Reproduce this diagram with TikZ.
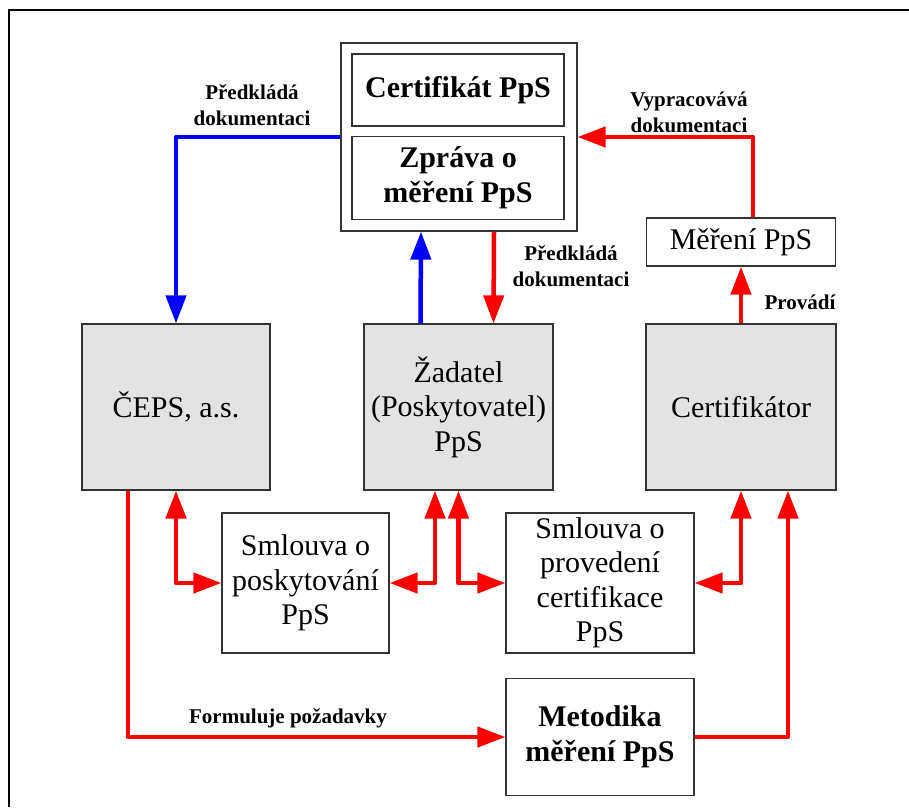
\documentclass[tikz,border=0pt]{standalone}
\usepackage{fontspec}
\setmainfont{Liberation Serif}
\usetikzlibrary{arrows.meta}

\begin{document}
\begin{tikzpicture}[x=1pt,y=-1pt,>={Triangle[length=28pt,width=20pt]},
    box/.style={draw=black!80,line width=1.2pt,align=center,inner sep=0pt,
      font=\fontsize{30}{34.5}\selectfont},
    boldbox/.style={box,font=\fontsize{30}{34.5}\selectfont\bfseries},
    greybox/.style={box,fill=black!11},
    lbl/.style={align=center,inner sep=0pt,font=\fontsize{21}{26}\selectfont\bfseries},
    redline/.style={draw=red,line width=4.5pt,line join=round},
    blueline/.style={draw=blue,line width=4.5pt,line join=round}]
  \useasboundingbox (0,0) rectangle (909,807);
  \draw[line width=2.5pt] (9,807) -- (9,10) -- (909,10);

  % top: certificate and report
  \node[box,minimum width=236pt,minimum height=188pt] (cert) at (459,137) {};
  \node[boldbox,minimum width=212pt,minimum height=72pt] (certpps) at (458,90) {Certifikát PpS};
  \node[boldbox,minimum width=212pt,minimum height=83pt] (zprava) at (458,178) {Zpráva o\\měření PpS};
  \node[box,minimum width=189pt,minimum height=48pt] (mereni) at (741,242) {Měření PpS};

  % parties
  \node[greybox,minimum width=188pt,minimum height=166pt] (ceps) at (176,407) {ČEPS, a.s.};
  \node[greybox,minimum width=189pt,minimum height=166pt] (zadatel) at (458.5,407) {Žadatel\\(Poskytovatel)\\PpS};
  \node[greybox,minimum width=190pt,minimum height=166pt] (certifikator) at (741,407) {Certifikátor};

  % contracts
  \node[box,minimum width=167pt,minimum height=140pt] (smlouva1) at (305.5,583) {Smlouva o\\poskytování\\PpS};
  \node[box,minimum width=188pt,minimum height=140pt] (smlouva2) at (600,583) {Smlouva o\\provedení\\certifikace\\PpS};
  \node[boldbox,minimum width=188pt,minimum height=117pt] (metodika) at (600,737) {Metodika\\měření PpS};

  \draw[blueline,->] (cert.west) -| (ceps.north);
  \draw[blueline,->] ([xshift=-38pt]zadatel.north) -- ([xshift=-38pt]cert.south);
  \draw[redline,->] ([xshift=35pt]cert.south) -- ([xshift=35pt]zadatel.north);
  \draw[redline,->] ([xshift=12pt]mereni.north) |- (cert.east);
  \draw[redline,->] (certifikator.north) -- (mereni.south);

  \draw[redline,<->] (ceps.south) |- (smlouva1.west);
  \draw[redline,<->] (smlouva1.east) -| ([xshift=-23.5pt]zadatel.south);
  \draw[redline,<->] (zadatel.south) |- (smlouva2.west);
  \draw[redline,<->] (smlouva2.east) -| (certifikator.south);
  \draw[redline,->] ([xshift=-48pt]ceps.south) |- (metodika.west);
  \draw[redline,->] (metodika.east) -| ([xshift=47pt]certifikator.south);

  \node[lbl] (lpred) at (252,105) {Předkládá\\dokumentaci};
  \node[lbl] (lvypr) at (689,112) {Vypracovává\\dokumentaci};
  \node[lbl] (lpred2) at (571,266) {Předkládá\\dokumentaci};
  \node[lbl] (lprov) at (800,302) {Provádí};
  \node[lbl] (lform) at (288,718) {Formuluje požadavky};
\end{tikzpicture}
\end{document}
